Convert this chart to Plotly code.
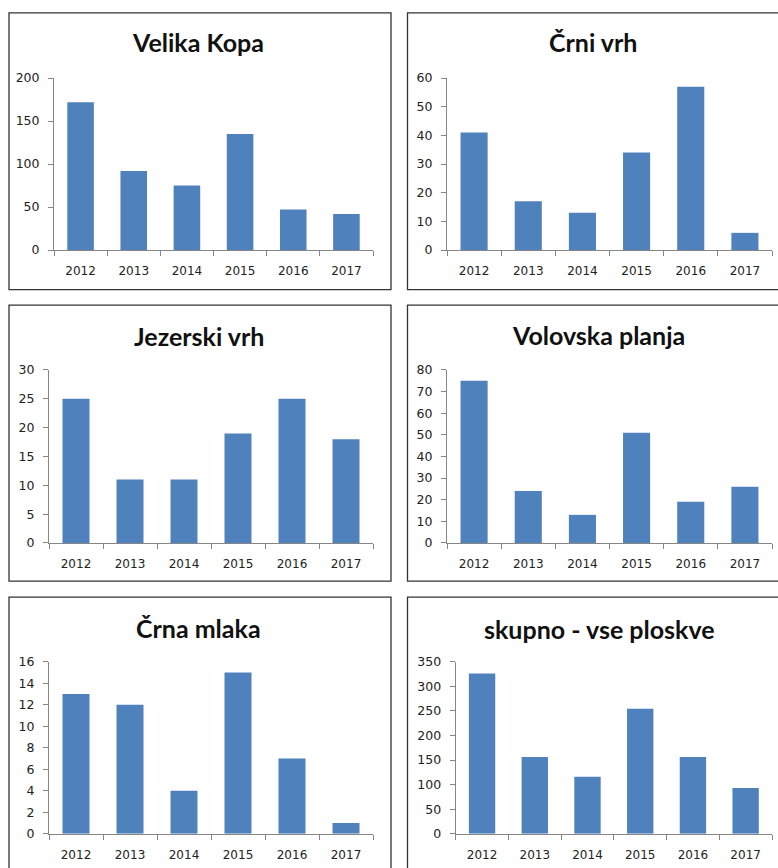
import plotly.graph_objects as go

W, H = 778, 868

years = ["2012", "2013", "2014", "2015", "2016", "2017"]

titles = ["Velika Kopa", "Črni vrh", "Jezerski vrh", "Volovska planja", "Črna mlaka", "skupno - vse ploskve"]

velika_kopa = [172, 92, 75, 135, 47, 42]
crni_vrh = [41, 17, 13, 34, 57, 6]
jezerski_vrh = [25, 11, 11, 19, 25, 18]
volovska_planja = [75, 24, 13, 51, 19, 26]
crna_mlaka = [13, 12, 4, 15, 7, 1]
skupno = [326, 156, 116, 254, 156, 93]

series = [velika_kopa, crni_vrh, jezerski_vrh, volovska_planja, crna_mlaka, skupno]
y_max = [200, 60, 30, 80, 16, 350]
y_step = [50, 10, 5, 10, 2, 50]

# geometry in reference pixels: (left, right, top, bottom) of plotting areas
plot_px = [
    (54, 373, 77.3, 249.3),
    (447, 772, 77.3, 249.3),
    (49, 373, 369.3, 542.3),
    (447, 772, 369.3, 542.3),
    (49, 373, 661, 833.3),
    (455.7, 772, 661, 833.3),
]
box_px = [
    (9, 391, 12, 289),
    (407.5, 820, 12, 289),
    (9, 391, 304.5, 580.5),
    (407.5, 820, 304.5, 580.5),
    (9, 391, 596.5, 900),
    (407.5, 820, 596.5, 900),
]
title_px = [(198, 41), (593, 41), (199, 335), (598, 334), (198, 627), (599, 628)]


def vy(y):
    # vertical pixel position -> paper fraction (compensates the viewer's slight vertical squeeze)
    y_adj = (y - 7.2) / 0.983
    return 1 - y_adj / H


BAR = "#4F81BD"
AXIS = "#868686"
XFONT = dict(family="DejaVu Sans", size=12, color="#222222")
YFONT = dict(family="DejaVu Sans", size=12.5, color="#222222")

fig = go.Figure()
layout = dict(
    width=W, height=H,
    margin=dict(l=0, r=0, t=0, b=0),
    paper_bgcolor="white", plot_bgcolor="white",
    showlegend=False, bargap=0.5,
    shapes=[], annotations=[],
)

for i in range(6):
    n = "" if i == 0 else str(i + 1)
    fig.add_trace(go.Bar(
        x=years, y=series[i], marker=dict(color=BAR, line=dict(width=0)),
        xaxis="x" + n, yaxis="y" + n, hoverinfo="x+y",
    ))
    l, r, t, b = plot_px[i]
    layout["xaxis" + n] = dict(
        domain=[l / W, r / W], anchor="y" + n,
        type="category", showgrid=False, zeroline=False,
        showline=True, linecolor=AXIS, linewidth=1,
        ticks="outside", tickson="boundaries", ticklen=5, tickcolor=AXIS,
        tickfont=XFONT, ticklabelstandoff=10, fixedrange=True,
    )
    layout["yaxis" + n] = dict(
        domain=[vy(b), vy(t)], anchor="x" + n,
        range=[0, y_max[i]], dtick=y_step[i], tick0=0,
        showgrid=False, zeroline=False,
        showline=True, linecolor=AXIS, linewidth=1,
        ticks="outside", ticklen=5, tickcolor=AXIS,
        tickfont=YFONT, ticklabelstandoff=6, fixedrange=True,
    )
    bl, br, bt, bb = box_px[i]
    layout["shapes"].append(dict(
        type="rect", xref="paper", yref="paper",
        x0=bl / W, x1=br / W, y0=vy(bb), y1=vy(bt),
        line=dict(color="#333333", width=1.3), fillcolor="rgba(0,0,0,0)",
    ))
    tx, ty = title_px[i]
    layout["annotations"].append(dict(
        text=titles[i], xref="paper", yref="paper",
        x=tx / W, y=vy(ty), xanchor="center", yanchor="middle",
        showarrow=False,
        font=dict(family="Lato", size=25, color="#111111", weight="bold"),
    ))

fig.update_layout(**layout)
fig.write_html(
    "out.html",
    config={"displayModeBar": False},
    post_script="document.body.style.margin='0';document.body.style.overflow='hidden';",
)
